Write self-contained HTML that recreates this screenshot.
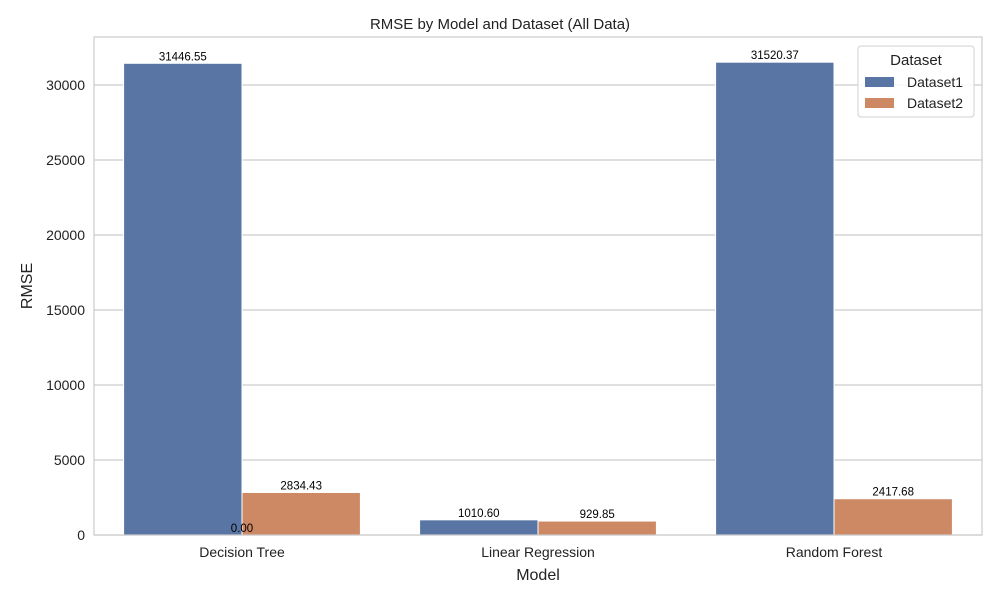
<!DOCTYPE html>
<html><head><meta charset="utf-8"><style>
body{margin:0;background:#fff;}
svg{font-family:"Liberation Sans","DejaVu Sans",sans-serif;}
</style></head><body>
<svg id="chart" width="1000" height="600" xmlns="http://www.w3.org/2000/svg">
<rect width="1000" height="600" fill="#fff"/>
<g id="grid"></g>
<g id="bars"></g>
<g id="labels"></g>
<rect x="94" y="37" width="888" height="498" fill="none" stroke="#cccccc" stroke-width="1.2"/>
<text x="500" y="29" text-anchor="middle" font-size="15" fill="#222">RMSE by Model and Dataset (All Data)</text>
<text x="538" y="580" text-anchor="middle" font-size="16" fill="#222">Model</text>
<text transform="translate(32,286) rotate(-90)" text-anchor="middle" font-size="16" fill="#222">RMSE</text>
<g>
<rect x="858" y="46" width="116" height="71" rx="3" fill="#fff" fill-opacity="0.85" stroke="#d0d0d0"/>
<text x="916" y="65" text-anchor="middle" font-size="15" fill="#222">Dataset</text>
<rect x="865" y="77" width="29" height="10" fill="#5875a4"/>
<text x="907" y="87" font-size="14" fill="#222">Dataset1</text>
<rect x="865" y="98" width="29" height="10" fill="#cc8963"/>
<text x="907" y="108" font-size="14" fill="#222">Dataset2</text>
</g>
</svg>
<script>
const categories=["Decision Tree","Linear Regression","Random Forest"];
const dataset1=[31446.55,1010.60,31520.37];
const dataset2=[2834.43,929.85,2417.68];
const yTicks=[0,5000,10000,15000,20000,25000,30000];
const NS="http://www.w3.org/2000/svg";
const X0=94,X1=982,Y0=535,Y1=37,YMAX=33200;
const y=v=>Y0-(v/YMAX)*(Y0-Y1);
const band=(X1-X0)/categories.length;
const xc=i=>X0+band*(i+0.5);
function mk(tag,attrs,parent,text){const e=document.createElementNS(NS,tag);for(const k in attrs)e.setAttribute(k,attrs[k]);if(text!==undefined)e.textContent=text;parent.appendChild(e);return e;}
const grid=document.getElementById('grid'),bars=document.getElementById('bars'),labels=document.getElementById('labels');
yTicks.forEach(t=>{
 const l=mk('line',{x1:X0,x2:X1,y1:y(t),y2:y(t),stroke:'#cccccc','stroke-width':1.2},grid);
 
 
 const tx=mk('text',{x:X0-9,y:y(t)+5,'text-anchor':'end','font-size':14,fill:'#222'},grid,String(t));
 
 
});
const bw=band*0.8/2;
categories.forEach((c,i)=>{
 const tx=mk('text',{x:xc(i),y:557,'text-anchor':'middle','font-size':14,fill:'#222'},labels,c);
 
 
 [[dataset1,'#5875a4',-1],[dataset2,'#cc8963',0]].forEach(([arr,col,off],s)=>{
  const v=arr[i];const x=xc(i)+off*bw;
  const r=mk('rect',{x:x,y:y(v),width:bw,height:Y0-y(v),fill:col,stroke:'#fff','stroke-width':1},bars);
  
  
  const lb=mk('text',{x:x+bw/2,y:y(v)-3,'text-anchor':'middle','font-size':11.5,fill:'#000'},labels,v.toFixed(2));
  
  
 });
});
const z=mk('text',{x:xc(0),y:Y0-3,'text-anchor':'middle','font-size':11.5,fill:'#000'},labels,(0).toFixed(2));


</script>
</body></html>
